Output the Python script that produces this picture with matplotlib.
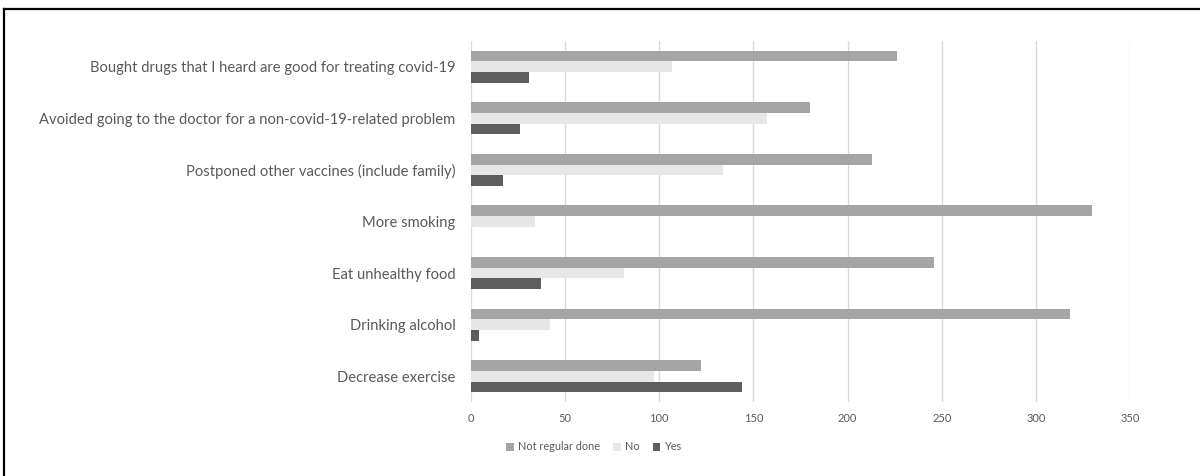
import matplotlib
matplotlib.use("Agg")
import matplotlib.pyplot as plt
import numpy as np
from matplotlib.lines import Line2D
from matplotlib.patches import Patch

categories = [
    "Decrease exercise",
    "Drinking alcohol",
    "Eat unhealthy food",
    "More smoking",
    "Postponed other vaccines (include family)",
    "Avoided going to the doctor for a non-covid-19-related problem",
    "Bought drugs that I heard are good for treating covid-19",
]
not_regular = [122, 318, 246, 330, 213, 180, 226]
no_vals = [97, 42, 81, 34, 134, 157, 107]
yes_vals = [144, 4, 37, 0, 17, 26, 31]
series_names = ["Not regular done", "No", "Yes"]
xticks = [0, 50, 100, 150, 200, 250, 300, 350]

c_nr, c_no, c_yes = "#A5A5A5", "#E7E7E7", "#5E5E5E"
txt = "#595959"

plt.rcParams['font.family'] = ['Lato', 'DejaVu Sans']

W, H = 1200, 476
fig = plt.figure(figsize=(W / 100, H / 100), dpi=100)
ax = fig.add_axes([471 / W, 1 - 402 / H, (1130 - 471) / W, (402 - 41) / H])

y = np.arange(len(categories))
h = 0.208
ax.barh(y + h, not_regular, height=h, color=c_nr, zorder=3)
ax.barh(y, no_vals, height=h, color=c_no, zorder=3)
ax.barh(y - h, yes_vals, height=h, color=c_yes, zorder=3)

ax.set_xlim(0, 350)
ax.set_ylim(-0.5, len(categories) - 0.5)
ax.set_xticks(xticks)
ax.set_xticklabels([str(t) for t in xticks])
ax.set_yticks(y)
ax.set_yticklabels(categories)
ax.tick_params(axis='y', length=0, pad=11, labelsize=10.6, labelcolor=txt)
ax.tick_params(axis='x', length=0, pad=8, labelsize=8, labelcolor=txt)
for s in ax.spines.values():
    s.set_visible(False)
ax.grid(axis='x', color="#D9D9D9", linewidth=1, zorder=0)
ax.set_axisbelow(True)

handles = [Patch(facecolor=c, edgecolor='none') for c in (c_nr, c_no, c_yes)]
fig.legend(handles, series_names, loc='center', bbox_to_anchor=(594 / W, 1 - 447 / H),
           ncol=3, frameon=False, fontsize=7.8, labelcolor=txt,
           handlelength=0.7, handleheight=0.7, handletextpad=0.4, columnspacing=1.2)

fig.add_artist(Line2D([4 / W, 1], [1 - 9 / H, 1 - 9 / H], transform=fig.transFigure,
                      color='black', linewidth=1.6))
fig.add_artist(Line2D([4 / W, 4 / W], [0, 1 - 9 / H], transform=fig.transFigure,
                      color='black', linewidth=1.6))

fig.savefig("out.png", dpi=100, facecolor='white')
